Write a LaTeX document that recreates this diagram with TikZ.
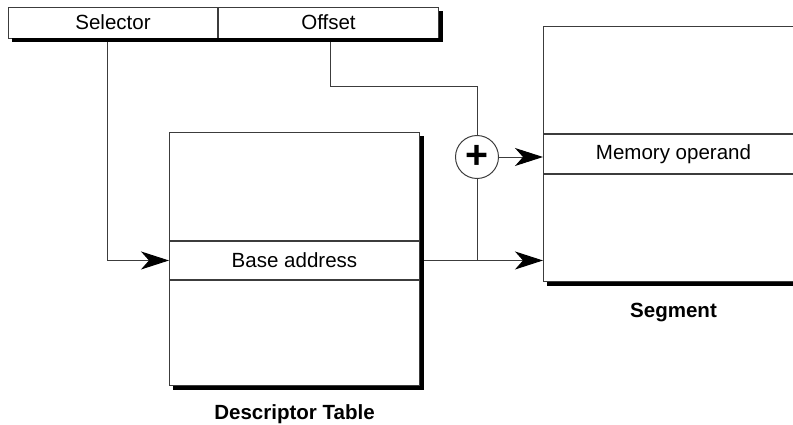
\documentclass[tikz,border=0pt]{standalone}
\usepackage{fontspec}
\setsansfont{Liberation Sans}
\usetikzlibrary{positioning, arrows.meta}
\usepackage{xcolor}
\definecolor{LineGray}{HTML}{3C3C3C}
\tikzset{
  every node/.style={font=\fontsize{14.6}{17}\sffamily},
  % table rows
  cell/.style={draw=LineGray, fill=white, line width=0.7pt, inner sep=0pt,
               minimum width=6.25cm},
  bar/.style ={cell, minimum height=0.775cm},
  seg/.style ={cell, minimum width=6.5cm},
  lbl/.style ={font=\fontsize{14.6}{17}\sffamily\bfseries, inner sep=0pt},
  link/.style={draw=LineGray, line width=0.7pt},
  arr/.style ={link, -{Stealth[length=0.7cm, width=0.45cm, inset=0.2cm, black]}},
}
% black drop shadow on the right and bottom of a stack of rows
\newcommand{\boxshadow}[3]{%
  \fill ([yshift=-0.1cm]#1.north east) rectangle ([shift={(0.1cm,-0.1cm)}]#3.south east);
  \fill ([xshift=0.1cm]#2.south west) rectangle ([shift={(0.1cm,-0.1cm)}]#3.south east);}

\begin{document}
\begin{tikzpicture}[node distance=0pt]
\clip (0,0) rectangle (19.825,-10.625);
% logical address
\node[bar, minimum width=5.225cm, anchor=west] (sel) at (0.2,-0.5625) {Selector};
\node[bar, minimum width=5.5cm, right=0pt of sel] (off) {Offset};
\boxshadow{off}{sel}{off}
% descriptor table
\node[cell, minimum height=2.7cm, anchor=north west] (dtop) at (4.225,-3.3) {};
\node[cell, minimum height=0.95cm, below=0pt of dtop] (base) {Base address};
\node[cell, minimum height=2.625cm, below=0pt of base] (dbot) {};
\boxshadow{dtop}{dbot}{dbot}
\node[lbl, below=0.45cm of dbot] (dlbl) {Descriptor Table};
% segment
\node[seg, minimum height=2.675cm, anchor=north west] (stop) at (13.575,-0.65) {};
\node[seg, minimum height=0.975cm, below=0pt of stop] (mem) {Memory operand};
\node[seg, minimum height=2.675cm, below=0pt of mem] (sbot) {};
\boxshadow{stop}{sbot}{sbot}
\node[lbl, below=0.525cm of sbot] (slbl) {Segment};
% adder
\node[link, circle, fill=white, minimum size=1.075cm, inner sep=0pt,
      font=\fontsize{28}{28}\sffamily\bfseries] (sum) at (11.925,-3.925) {+};
% connectors
\draw[arr] ([xshift=-0.14cm, yshift=-0.1cm]sel.south) |- (base.west);
\draw[link] ([xshift=0.05cm, yshift=-0.1cm]off.south) -- ++(0,-1.1) -| (sum.north);
\draw[arr] (sum.east) -- (sum.east -| stop.west);
\draw[link] (sum.south) -- (sum |- base.east);
\draw[arr] ([xshift=0.1cm]base.east) -- (base.east -| sbot.west);
\end{tikzpicture}
\end{document}
